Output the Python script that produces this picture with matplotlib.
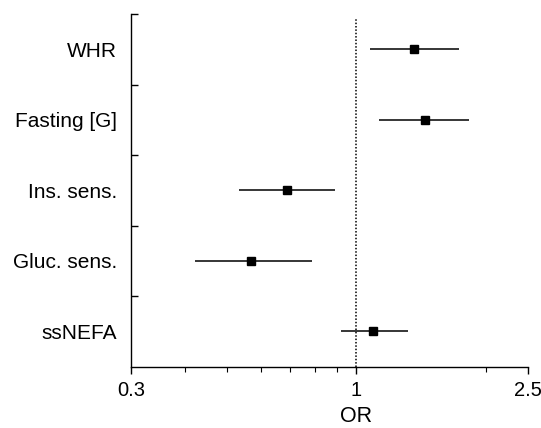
import numpy as np
import matplotlib.pyplot as plt
from matplotlib.ticker import FixedLocator, NullFormatter

labels = ['WHR', 'Fasting [G]', 'Ins. sens.', 'Gluc. sens.', 'ssNEFA']
odds = [1.36, 1.44, 0.69, 0.57, 1.09]
ci_low = [1.075, 1.13, 0.534, 0.422, 0.92]
ci_high = [1.73, 1.82, 0.89, 0.79, 1.315]

major_ticks = [0.3, 1, 2.5]
minor_ticks = [0.4, 0.5, 0.6, 0.7, 0.8, 0.9, 2]

plt.rcParams['font.family'] = ['Liberation Sans', 'DejaVu Sans']

fig = plt.figure(figsize=(5.41, 4.28), dpi=100)
ax = fig.add_axes([0.2421, 0.1432, 0.976 - 0.2421, 0.9673 - 0.1432])

ypos = np.arange(len(labels))[::-1] + 1
odds = np.array(odds)
err = [odds - np.array(ci_low), np.array(ci_high) - odds]

ax.axvline(1, color='black', linestyle=(0, (1, 1.2)), linewidth=1.1, ymax=0.99)
ax.errorbar(odds, ypos, xerr=err, fmt='s', color='black', ecolor='black',
            elinewidth=1.1, capsize=0, markersize=6, zorder=3)

ax.set_xscale('log')
ax.set_xlim(0.3, 2.5)
ax.set_ylim(0.5, len(labels) + 0.5)

ax.xaxis.set_major_locator(FixedLocator(major_ticks))
ax.xaxis.set_minor_locator(FixedLocator(minor_ticks))
ax.set_xticklabels([str(t) for t in major_ticks])
ax.xaxis.set_minor_formatter(NullFormatter())
ax.tick_params(axis='x', which='major', direction='out', length=5, width=1,
               labelsize=14.5, pad=5)
ax.tick_params(axis='x', which='minor', direction='out', length=3.5, width=0.8)

# boundaries between rows get the ticks, labels sit in between
ax.set_yticks(np.arange(1.5, len(labels) + 1, 1.0))
ax.set_yticklabels([])
ax.set_yticks(ypos, minor=True)
ax.set_yticklabels(labels, minor=True)
ax.tick_params(axis='y', which='major', direction='in', length=5, width=1)
ax.tick_params(axis='y', which='minor', length=0, labelsize=15, pad=10)

for s in ['top', 'right']:
    ax.spines[s].set_visible(False)
for s in ['left', 'bottom']:
    ax.spines[s].set_linewidth(1)

ax.set_xlabel('OR', fontsize=15.5)
ax.xaxis.set_label_coords(0.568, -0.112)

fig.savefig('out.png', dpi=100)
